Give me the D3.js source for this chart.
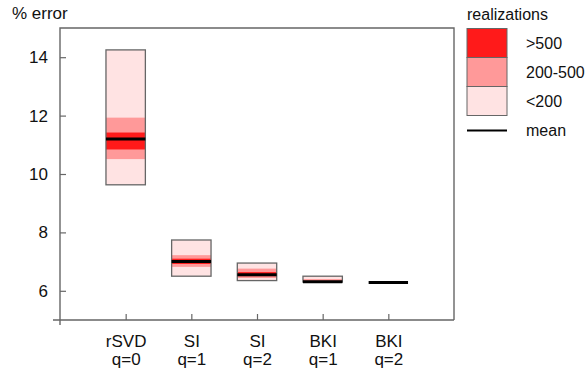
<!DOCTYPE html>
<html>
<meta charset="utf-8">
<style>
body { margin: 0; background: #fff; }
text { font-family: "Liberation Sans", Arial, sans-serif; font-size: 17px; fill: #111; }
.frame { stroke: #666; stroke-width: 1.4; fill: none; }
.tick line { stroke: #666; stroke-width: 1.2; }
.legend text { font-size: 16px; }
</style>
<body>
<svg width="587" height="374"></svg>
<script src="https://d3js.org/d3.v7.min.js"></script>
<script>
// data
var methods = ["rSVD", "SI", "SI", "BKI", "BKI"];
var qLabels = ["q=0", "q=1", "q=2", "q=1", "q=2"];
var lightLo = [9.63, 6.50, 6.35, 6.30, 6.28];
var lightHi = [14.25, 7.74, 6.95, 6.50, 6.28];
var midLo = [10.51, 6.82, 6.44, 6.31, 6.28];
var midHi = [11.93, 7.22, 6.76, 6.40, 6.28];
var darkLo = [10.84, 6.92, 6.50, 6.30, 6.28];
var darkHi = [11.42, 7.10, 6.64, 6.34, 6.28];
var means = [11.2, 7.0, 6.55, 6.31, 6.28];
var yTicks = [6, 8, 10, 12, 14];
var legendLabels = [">500", "200-500", "<200"];
var colors = ["#ff1a1a", "#ff9999", "#ffe3e3"];

var svg = d3.select("svg");
var x = d3.scaleLinear().domain([0, 6]).range([60, 454]);
var y = d3.scaleLinear().domain([5, 15]).range([320, 28]);
var half = 0.3;

var data = methods.map(function(m, i) {
  return {i: i + 1, m: m, q: qLabels[i],
    light: [lightLo[i], lightHi[i]], mid: [midLo[i], midHi[i]],
    dark: [darkLo[i], darkHi[i]], mean: means[i]};
});

// y axis
var gy = svg.append("g").attr("transform", "translate(60,0)")
  .call(d3.axisLeft(y).tickValues(yTicks).tickSize(-6).tickPadding(12));
gy.select(".domain").remove();
gy.selectAll("text").style("font-size", "17px").attr("fill", "#111");

// x axis
var gx = svg.append("g").attr("transform", "translate(0,320)")
  .call(d3.axisBottom(x).tickValues(data.map(function(d) { return d.i; })).tickSize(-6));
gx.select(".domain").remove();
gx.selectAll(".tick text").remove();
gx.selectAll(".tick").each(function(v, k) {
  var t = d3.select(this).append("text").attr("text-anchor", "middle").attr("fill", "#111")
    .style("font-size", "17px");
  t.append("tspan").attr("x", 0).attr("y", 27).text(methods[k]);
  t.append("tspan").attr("x", 0).attr("y", 45).text(qLabels[k]);
});

// frame
svg.append("path").attr("class", "frame")
  .attr("d", "M60,325V28H454V320M53,320H454");

svg.append("text").attr("x", 12).attr("y", 19).text("% error");

// boxes
var g = svg.append("g");
data.forEach(function(d) {
  var x0 = x(d.i - half), w = x(d.i + half) - x(d.i - half);
  [["light", 2], ["mid", 1], ["dark", 0]].forEach(function(b) {
    var r = d[b[0]];
    if (r[1] > r[0]) {
      g.append("rect").attr("x", x0).attr("width", w)
        .attr("y", y(r[1])).attr("height", y(r[0]) - y(r[1]))
        .attr("fill", colors[b[1]]);
    }
  });
  if (d.light[1] > d.light[0]) {
    g.append("rect").attr("x", x0).attr("width", w)
      .attr("y", y(d.light[1])).attr("height", y(d.light[0]) - y(d.light[1]))
      .attr("fill", "none").attr("stroke", "#666").attr("stroke-width", 1.3);
  }
  g.append("line").attr("x1", x0).attr("x2", x0 + w)
    .attr("y1", y(d.mean)).attr("y2", y(d.mean))
    .attr("stroke", "#000").attr("stroke-width", 3);
});

// legend
var lg = svg.append("g").attr("class", "legend");
lg.append("text").attr("x", 467).attr("y", 20).text("realizations");
legendLabels.forEach(function(l, k) {
  lg.append("rect").attr("x", 467).attr("y", 28.5 + k * 29).attr("width", 40).attr("height", 29)
    .attr("fill", colors[k]).attr("stroke", "#666").attr("stroke-width", 1);
  lg.append("text").attr("x", 526).attr("y", 43 + k * 29).attr("dy", "0.35em").text(l);
});
lg.append("line").attr("x1", 467).attr("x2", 507).attr("y1", 130.5).attr("y2", 130.5)
  .attr("stroke", "#000").attr("stroke-width", 2);
lg.append("text").attr("x", 526).attr("y", 130.5).attr("dy", "0.35em").text("mean");
</script>
</body>
</html>
